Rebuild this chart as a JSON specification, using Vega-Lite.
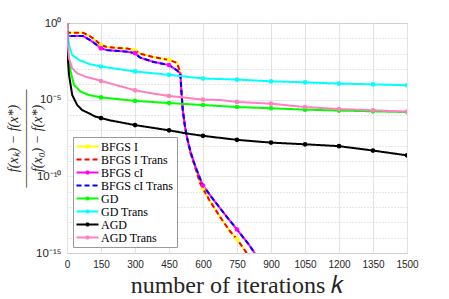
{
  "$schema": "https://vega.github.io/schema/vega-lite/v6.json",
  "width": 340,
  "height": 230,
  "autosize": "none",
  "padding": {"left": 67, "top": 23, "right": 42, "bottom": 46},
  "background": "white",
  "config": {
    "view": {"stroke": "#999999", "strokeWidth": 1},
    "font": "Liberation Sans",
    "legend": {
      "orient": "bottom-left",
      "offset": 6,
      "padding": 3,
      "fillColor": "white",
      "strokeColor": "#999999",
      "labelFont": "Liberation Serif",
      "labelFontSize": 12,
      "labelColor": "black",
      "symbolSize": 121,
      "symbolStrokeWidth": 2,
      "symbolOffset": 5,
      "labelOffset": 7,
      "rowPadding": 0,
      "titlePadding": 0
    }
  },
  "data": {
    "values": [
      {"s": "BFGS I", "k": 0, "v": 1}, {"s": "BFGS I", "k": 3, "v": 0.2344}, {"s": "BFGS I", "k": 70, "v": 0.2344}, {"s": "BFGS I", "k": 100, "v": 0.1413}, {"s": "BFGS I", "k": 120, "v": 0.0891}, {"s": "BFGS I", "k": 150, "v": 0.0372}, {"s": "BFGS I", "k": 176, "v": 0.0269}, {"s": "BFGS I", "k": 265, "v": 0.0214}, {"s": "BFGS I", "k": 300, "v": 0.0166}, {"s": "BFGS I", "k": 323, "v": 0.01}, {"s": "BFGS I", "k": 382, "v": 0.00603}, {"s": "BFGS I", "k": 450, "v": 0.00389}, {"s": "BFGS I", "k": 485, "v": 0.00251}, {"s": "BFGS I", "k": 497, "v": 0.000813}, {"s": "BFGS I", "k": 500, "v": 0.000501}, {"s": "BFGS I", "k": 505, "v": 3.16e-5}, {"s": "BFGS I", "k": 511, "v": 2e-6}, {"s": "BFGS I", "k": 520, "v": 2e-7}, {"s": "BFGS I", "k": 529, "v": 3.63e-8}, {"s": "BFGS I", "k": 545, "v": 3.16e-9}, {"s": "BFGS I", "k": 565, "v": 3.98e-10}, {"s": "BFGS I", "k": 588, "v": 3.31e-11}, {"s": "BFGS I", "k": 600, "v": 1.58e-11}, {"s": "BFGS I", "k": 630, "v": 2.51e-12}, {"s": "BFGS I", "k": 676, "v": 2.19e-13}, {"s": "BFGS I", "k": 720, "v": 2.51e-14}, {"s": "BFGS I", "k": 750, "v": 7.94e-15}, {"s": "BFGS I", "k": 795, "v": 8.91e-16}, {"s": "BFGS I", "k": 810, "v": 3.98e-16},
      {"s": "BFGS I Trans", "k": 0, "v": 1}, {"s": "BFGS I Trans", "k": 3, "v": 0.2344}, {"s": "BFGS I Trans", "k": 70, "v": 0.2344}, {"s": "BFGS I Trans", "k": 100, "v": 0.1413}, {"s": "BFGS I Trans", "k": 120, "v": 0.0891}, {"s": "BFGS I Trans", "k": 150, "v": 0.0372}, {"s": "BFGS I Trans", "k": 176, "v": 0.0269}, {"s": "BFGS I Trans", "k": 265, "v": 0.0214}, {"s": "BFGS I Trans", "k": 300, "v": 0.0166}, {"s": "BFGS I Trans", "k": 323, "v": 0.01}, {"s": "BFGS I Trans", "k": 382, "v": 0.00603}, {"s": "BFGS I Trans", "k": 450, "v": 0.00389}, {"s": "BFGS I Trans", "k": 485, "v": 0.00251}, {"s": "BFGS I Trans", "k": 497, "v": 0.000813}, {"s": "BFGS I Trans", "k": 500, "v": 0.000501}, {"s": "BFGS I Trans", "k": 505, "v": 3.16e-5}, {"s": "BFGS I Trans", "k": 511, "v": 2e-6}, {"s": "BFGS I Trans", "k": 520, "v": 2e-7}, {"s": "BFGS I Trans", "k": 529, "v": 3.63e-8}, {"s": "BFGS I Trans", "k": 545, "v": 3.16e-9}, {"s": "BFGS I Trans", "k": 565, "v": 3.98e-10}, {"s": "BFGS I Trans", "k": 588, "v": 3.31e-11}, {"s": "BFGS I Trans", "k": 600, "v": 1.58e-11}, {"s": "BFGS I Trans", "k": 630, "v": 2.51e-12}, {"s": "BFGS I Trans", "k": 676, "v": 2.19e-13}, {"s": "BFGS I Trans", "k": 720, "v": 2.51e-14}, {"s": "BFGS I Trans", "k": 750, "v": 7.94e-15}, {"s": "BFGS I Trans", "k": 795, "v": 8.91e-16}, {"s": "BFGS I Trans", "k": 810, "v": 3.98e-16},
      {"s": "BFGS cI", "k": 0, "v": 1}, {"s": "BFGS cI", "k": 3, "v": 0.1413}, {"s": "BFGS cI", "k": 70, "v": 0.1413}, {"s": "BFGS cI", "k": 100, "v": 0.0794}, {"s": "BFGS cI", "k": 120, "v": 0.0501}, {"s": "BFGS cI", "k": 150, "v": 0.0224}, {"s": "BFGS cI", "k": 176, "v": 0.017}, {"s": "BFGS cI", "k": 265, "v": 0.0135}, {"s": "BFGS cI", "k": 300, "v": 0.0107}, {"s": "BFGS cI", "k": 323, "v": 0.0055}, {"s": "BFGS cI", "k": 382, "v": 0.00288}, {"s": "BFGS cI", "k": 450, "v": 0.00182}, {"s": "BFGS cI", "k": 485, "v": 0.000813}, {"s": "BFGS cI", "k": 500, "v": 0.000501}, {"s": "BFGS cI", "k": 505, "v": 3.16e-5}, {"s": "BFGS cI", "k": 511, "v": 2e-6}, {"s": "BFGS cI", "k": 520, "v": 2e-7}, {"s": "BFGS cI", "k": 529, "v": 3.63e-8}, {"s": "BFGS cI", "k": 545, "v": 3.98e-9}, {"s": "BFGS cI", "k": 565, "v": 5.01e-10}, {"s": "BFGS cI", "k": 596, "v": 3.31e-11}, {"s": "BFGS cI", "k": 600, "v": 2.51e-11}, {"s": "BFGS cI", "k": 650, "v": 2.51e-12}, {"s": "BFGS cI", "k": 706, "v": 2.19e-13}, {"s": "BFGS cI", "k": 750, "v": 3.4e-14}, {"s": "BFGS cI", "k": 800, "v": 3.98e-15}, {"s": "BFGS cI", "k": 830, "v": 8.91e-16}, {"s": "BFGS cI", "k": 845, "v": 3.98e-16},
      {"s": "BFGS cI Trans", "k": 0, "v": 1}, {"s": "BFGS cI Trans", "k": 3, "v": 0.1413}, {"s": "BFGS cI Trans", "k": 70, "v": 0.1413}, {"s": "BFGS cI Trans", "k": 100, "v": 0.0794}, {"s": "BFGS cI Trans", "k": 120, "v": 0.0501}, {"s": "BFGS cI Trans", "k": 150, "v": 0.0224}, {"s": "BFGS cI Trans", "k": 176, "v": 0.017}, {"s": "BFGS cI Trans", "k": 265, "v": 0.0135}, {"s": "BFGS cI Trans", "k": 300, "v": 0.0107}, {"s": "BFGS cI Trans", "k": 323, "v": 0.0055}, {"s": "BFGS cI Trans", "k": 382, "v": 0.00288}, {"s": "BFGS cI Trans", "k": 450, "v": 0.00182}, {"s": "BFGS cI Trans", "k": 485, "v": 0.000813}, {"s": "BFGS cI Trans", "k": 500, "v": 0.000501}, {"s": "BFGS cI Trans", "k": 505, "v": 3.16e-5}, {"s": "BFGS cI Trans", "k": 511, "v": 2e-6}, {"s": "BFGS cI Trans", "k": 520, "v": 2e-7}, {"s": "BFGS cI Trans", "k": 529, "v": 3.63e-8}, {"s": "BFGS cI Trans", "k": 545, "v": 3.98e-9}, {"s": "BFGS cI Trans", "k": 565, "v": 5.01e-10}, {"s": "BFGS cI Trans", "k": 596, "v": 3.31e-11}, {"s": "BFGS cI Trans", "k": 600, "v": 2.51e-11}, {"s": "BFGS cI Trans", "k": 650, "v": 2.51e-12}, {"s": "BFGS cI Trans", "k": 706, "v": 2.19e-13}, {"s": "BFGS cI Trans", "k": 750, "v": 3.4e-14}, {"s": "BFGS cI Trans", "k": 800, "v": 3.98e-15}, {"s": "BFGS cI Trans", "k": 830, "v": 8.91e-16}, {"s": "BFGS cI Trans", "k": 845, "v": 3.98e-16},
      {"s": "GD", "k": 0, "v": 1}, {"s": "GD", "k": 2, "v": 0.1}, {"s": "GD", "k": 6, "v": 0.00813}, {"s": "GD", "k": 16, "v": 6.76e-4}, {"s": "GD", "k": 31, "v": 9.12e-5}, {"s": "GD", "k": 60, "v": 3.39e-5}, {"s": "GD", "k": 97, "v": 2.0e-5}, {"s": "GD", "k": 150, "v": 1.41e-5}, {"s": "GD", "k": 300, "v": 8.32e-6}, {"s": "GD", "k": 450, "v": 6.03e-6}, {"s": "GD", "k": 600, "v": 4.47e-6}, {"s": "GD", "k": 750, "v": 3.31e-6}, {"s": "GD", "k": 900, "v": 2.75e-6}, {"s": "GD", "k": 1050, "v": 2.24e-6}, {"s": "GD", "k": 1200, "v": 1.95e-6}, {"s": "GD", "k": 1350, "v": 1.74e-6}, {"s": "GD", "k": 1500, "v": 1.55e-6},
      {"s": "GD Trans", "k": 0, "v": 1}, {"s": "GD Trans", "k": 1, "v": 0.275}, {"s": "GD Trans", "k": 9, "v": 0.0363}, {"s": "GD Trans", "k": 23, "v": 0.00813}, {"s": "GD Trans", "k": 53, "v": 0.00389}, {"s": "GD Trans", "k": 97, "v": 0.00214}, {"s": "GD Trans", "k": 150, "v": 0.00145}, {"s": "GD Trans", "k": 300, "v": 6.92e-4}, {"s": "GD Trans", "k": 450, "v": 4.17e-4}, {"s": "GD Trans", "k": 600, "v": 2.4e-4}, {"s": "GD Trans", "k": 750, "v": 2.04e-4}, {"s": "GD Trans", "k": 900, "v": 1.58e-4}, {"s": "GD Trans", "k": 1050, "v": 1.35e-4}, {"s": "GD Trans", "k": 1200, "v": 1.12e-4}, {"s": "GD Trans", "k": 1350, "v": 1.0e-4}, {"s": "GD Trans", "k": 1500, "v": 8.71e-5},
      {"s": "AGD", "k": 0, "v": 1}, {"s": "AGD", "k": 1, "v": 0.1}, {"s": "AGD", "k": 3, "v": 0.00631}, {"s": "AGD", "k": 9, "v": 4.07e-4}, {"s": "AGD", "k": 23, "v": 2.0e-5}, {"s": "AGD", "k": 45, "v": 4.47e-6}, {"s": "AGD", "k": 67, "v": 2.09e-6}, {"s": "AGD", "k": 97, "v": 1.29e-6}, {"s": "AGD", "k": 126, "v": 7.76e-7}, {"s": "AGD", "k": 150, "v": 6.31e-7}, {"s": "AGD", "k": 190, "v": 4.47e-7}, {"s": "AGD", "k": 300, "v": 2.19e-7}, {"s": "AGD", "k": 380, "v": 1.45e-7}, {"s": "AGD", "k": 450, "v": 1.0e-7}, {"s": "AGD", "k": 530, "v": 6.17e-8}, {"s": "AGD", "k": 600, "v": 4.37e-8}, {"s": "AGD", "k": 750, "v": 2.4e-8}, {"s": "AGD", "k": 900, "v": 1.58e-8}, {"s": "AGD", "k": 1050, "v": 1.23e-8}, {"s": "AGD", "k": 1200, "v": 9.33e-9}, {"s": "AGD", "k": 1350, "v": 4.79e-9}, {"s": "AGD", "k": 1500, "v": 2.34e-9},
      {"s": "AGD Trans", "k": 0, "v": 1}, {"s": "AGD Trans", "k": 1, "v": 0.1}, {"s": "AGD Trans", "k": 9, "v": 0.00501}, {"s": "AGD Trans", "k": 23, "v": 0.00112}, {"s": "AGD Trans", "k": 45, "v": 5.25e-4}, {"s": "AGD Trans", "k": 82, "v": 3.16e-4}, {"s": "AGD Trans", "k": 126, "v": 2.14e-4}, {"s": "AGD Trans", "k": 150, "v": 1.65e-4}, {"s": "AGD Trans", "k": 220, "v": 8.71e-5}, {"s": "AGD Trans", "k": 300, "v": 4.07e-5}, {"s": "AGD Trans", "k": 380, "v": 2.51e-5}, {"s": "AGD Trans", "k": 450, "v": 1.74e-5}, {"s": "AGD Trans", "k": 530, "v": 1.32e-5}, {"s": "AGD Trans", "k": 600, "v": 1.0e-5}, {"s": "AGD Trans", "k": 675, "v": 9.55e-6}, {"s": "AGD Trans", "k": 750, "v": 7.08e-6}, {"s": "AGD Trans", "k": 900, "v": 5.5e-6}, {"s": "AGD Trans", "k": 980, "v": 4.17e-6}, {"s": "AGD Trans", "k": 1050, "v": 3.31e-6}, {"s": "AGD Trans", "k": 1200, "v": 2.45e-6}, {"s": "AGD Trans", "k": 1350, "v": 2.04e-6}, {"s": "AGD Trans", "k": 1500, "v": 1.66e-6}
    ]
  },
  "encoding": {
    "x": {
      "field": "k", "type": "quantitative",
      "scale": {"domain": [0, 1500], "nice": false, "zero": false},
      "axis": {
        "values": [0, 150, 300, 450, 600, 750, 900, 1050, 1200, 1350, 1500],
        "format": "d",
        "grid": true, "gridColor": "#e3e3e3", "gridWidth": 1,
        "domain": false, "ticks": false, "tickSize": 0,
        "labelFont": "Liberation Sans", "labelFontSize": 10, "labelColor": "#262626", "labelPadding": 6,
        "labelFlush": false, "labelOverlap": false,
        "title": "number of iterations 𝑘",
        "titleFont": "Liberation Serif", "titleFontSize": 24, "titleFontWeight": "normal", "titleColor": "#262626",
        "titleY": 39, "titleBaseline": "alphabetic"
      }
    },
    "y": {
      "field": "v", "type": "quantitative",
      "scale": {"type": "log", "domain": [1e-15, 1], "nice": false},
      "axis": {
        "values": [1, 1e-1, 1e-2, 1e-3, 1e-4, 1e-5, 1e-6, 1e-7, 1e-8, 1e-9, 1e-10, 1e-11, 1e-12, 1e-13, 1e-14, 1e-15],
        "labelExpr": "round(log(datum.value)/LN10) == 0 ? '10⁰' : round(log(datum.value)/LN10) == -5 ? '10⁻⁵' : round(log(datum.value)/LN10) == -10 ? '10⁻¹⁰' : round(log(datum.value)/LN10) == -15 ? '10⁻¹⁵' : ''",
        "grid": true,
        "gridColor": {"condition": {"test": "round(log(datum.value)/LN10) % 5 == 0", "value": "#e3e3e3"}, "value": "#cfcfcf"},
        "gridDash": {"condition": {"test": "round(log(datum.value)/LN10) % 5 == 0", "value": [1, 0]}, "value": [1, 2]},
        "domain": false, "ticks": false, "tickSize": 0,
        "labelFont": "Liberation Sans", "labelFontSize": 11.5, "labelColor": "#262626", "labelPadding": 6,
        "labelFlush": false, "labelOverlap": false,
        "title": ["f(xₖ) − f(x*)", "―――――――", "f(x₀) − f(x*)"],
        "titleFont": "Liberation Serif", "titleFontSize": 14, "titleFontStyle": "italic", "titleFontWeight": "normal",
        "titleColor": "#262626", "titleLineHeight": 12, "titleX": -54, "titleBaseline": "middle", "titleAngle": -90
      }
    },
    "color": {
      "field": "s", "type": "nominal", "title": null,
      "scale": {
        "domain": ["BFGS I", "BFGS I Trans", "BFGS cI", "BFGS cI Trans", "GD", "GD Trans", "AGD", "AGD Trans"],
        "range": ["#ffff00", "#ff0000", "#ff00ff", "#0000ff", "#00ff00", "#00ffff", "#000000", "#ff80c0"]
      }
    }
  },
  "layer": [
    {
      "mark": {"type": "line", "clip": true, "strokeWidth": 2},
      "encoding": {
        "strokeDash": {
          "field": "s", "type": "nominal", "title": null,
          "scale": {
            "domain": ["BFGS I", "BFGS I Trans", "BFGS cI", "BFGS cI Trans", "GD", "GD Trans", "AGD", "AGD Trans"],
            "range": [[1, 0], [5, 3], [1, 0], [5, 3], [1, 0], [1, 0], [1, 0], [1, 0]]
          }
        }
      }
    },
    {
      "transform": [{"filter": "datum.k % 150 == 0 && datum.s != 'BFGS I Trans' && datum.s != 'BFGS cI Trans'"}],
      "mark": {"type": "point", "filled": true, "size": 22, "opacity": 1, "clip": true}
    },
    {
      "transform": [{"filter": "datum.k < 0"}],
      "mark": {"type": "point", "filled": false, "opacity": 1},
      "encoding": {
        "shape": {
          "field": "s", "type": "nominal", "title": null,
          "scale": {
            "domain": ["BFGS I", "BFGS I Trans", "BFGS cI", "BFGS cI Trans", "GD", "GD Trans", "AGD", "AGD Trans"],
            "range": [
              "M-2,0H2M-0.2,0A0.2,0.2 0 1,0 0.2,0A0.2,0.2 0 1,0 -0.2,0",
              "M-2,0H2",
              "M-2,0H2M-0.2,0A0.2,0.2 0 1,0 0.2,0A0.2,0.2 0 1,0 -0.2,0",
              "M-2,0H2",
              "M-2,0H2M-0.2,0A0.2,0.2 0 1,0 0.2,0A0.2,0.2 0 1,0 -0.2,0",
              "M-2,0H2M-0.2,0A0.2,0.2 0 1,0 0.2,0A0.2,0.2 0 1,0 -0.2,0",
              "M-2,0H2M-0.2,0A0.2,0.2 0 1,0 0.2,0A0.2,0.2 0 1,0 -0.2,0",
              "M-2,0H2M-0.2,0A0.2,0.2 0 1,0 0.2,0A0.2,0.2 0 1,0 -0.2,0"
            ]
          }
        }
      }
    }
  ]
}
